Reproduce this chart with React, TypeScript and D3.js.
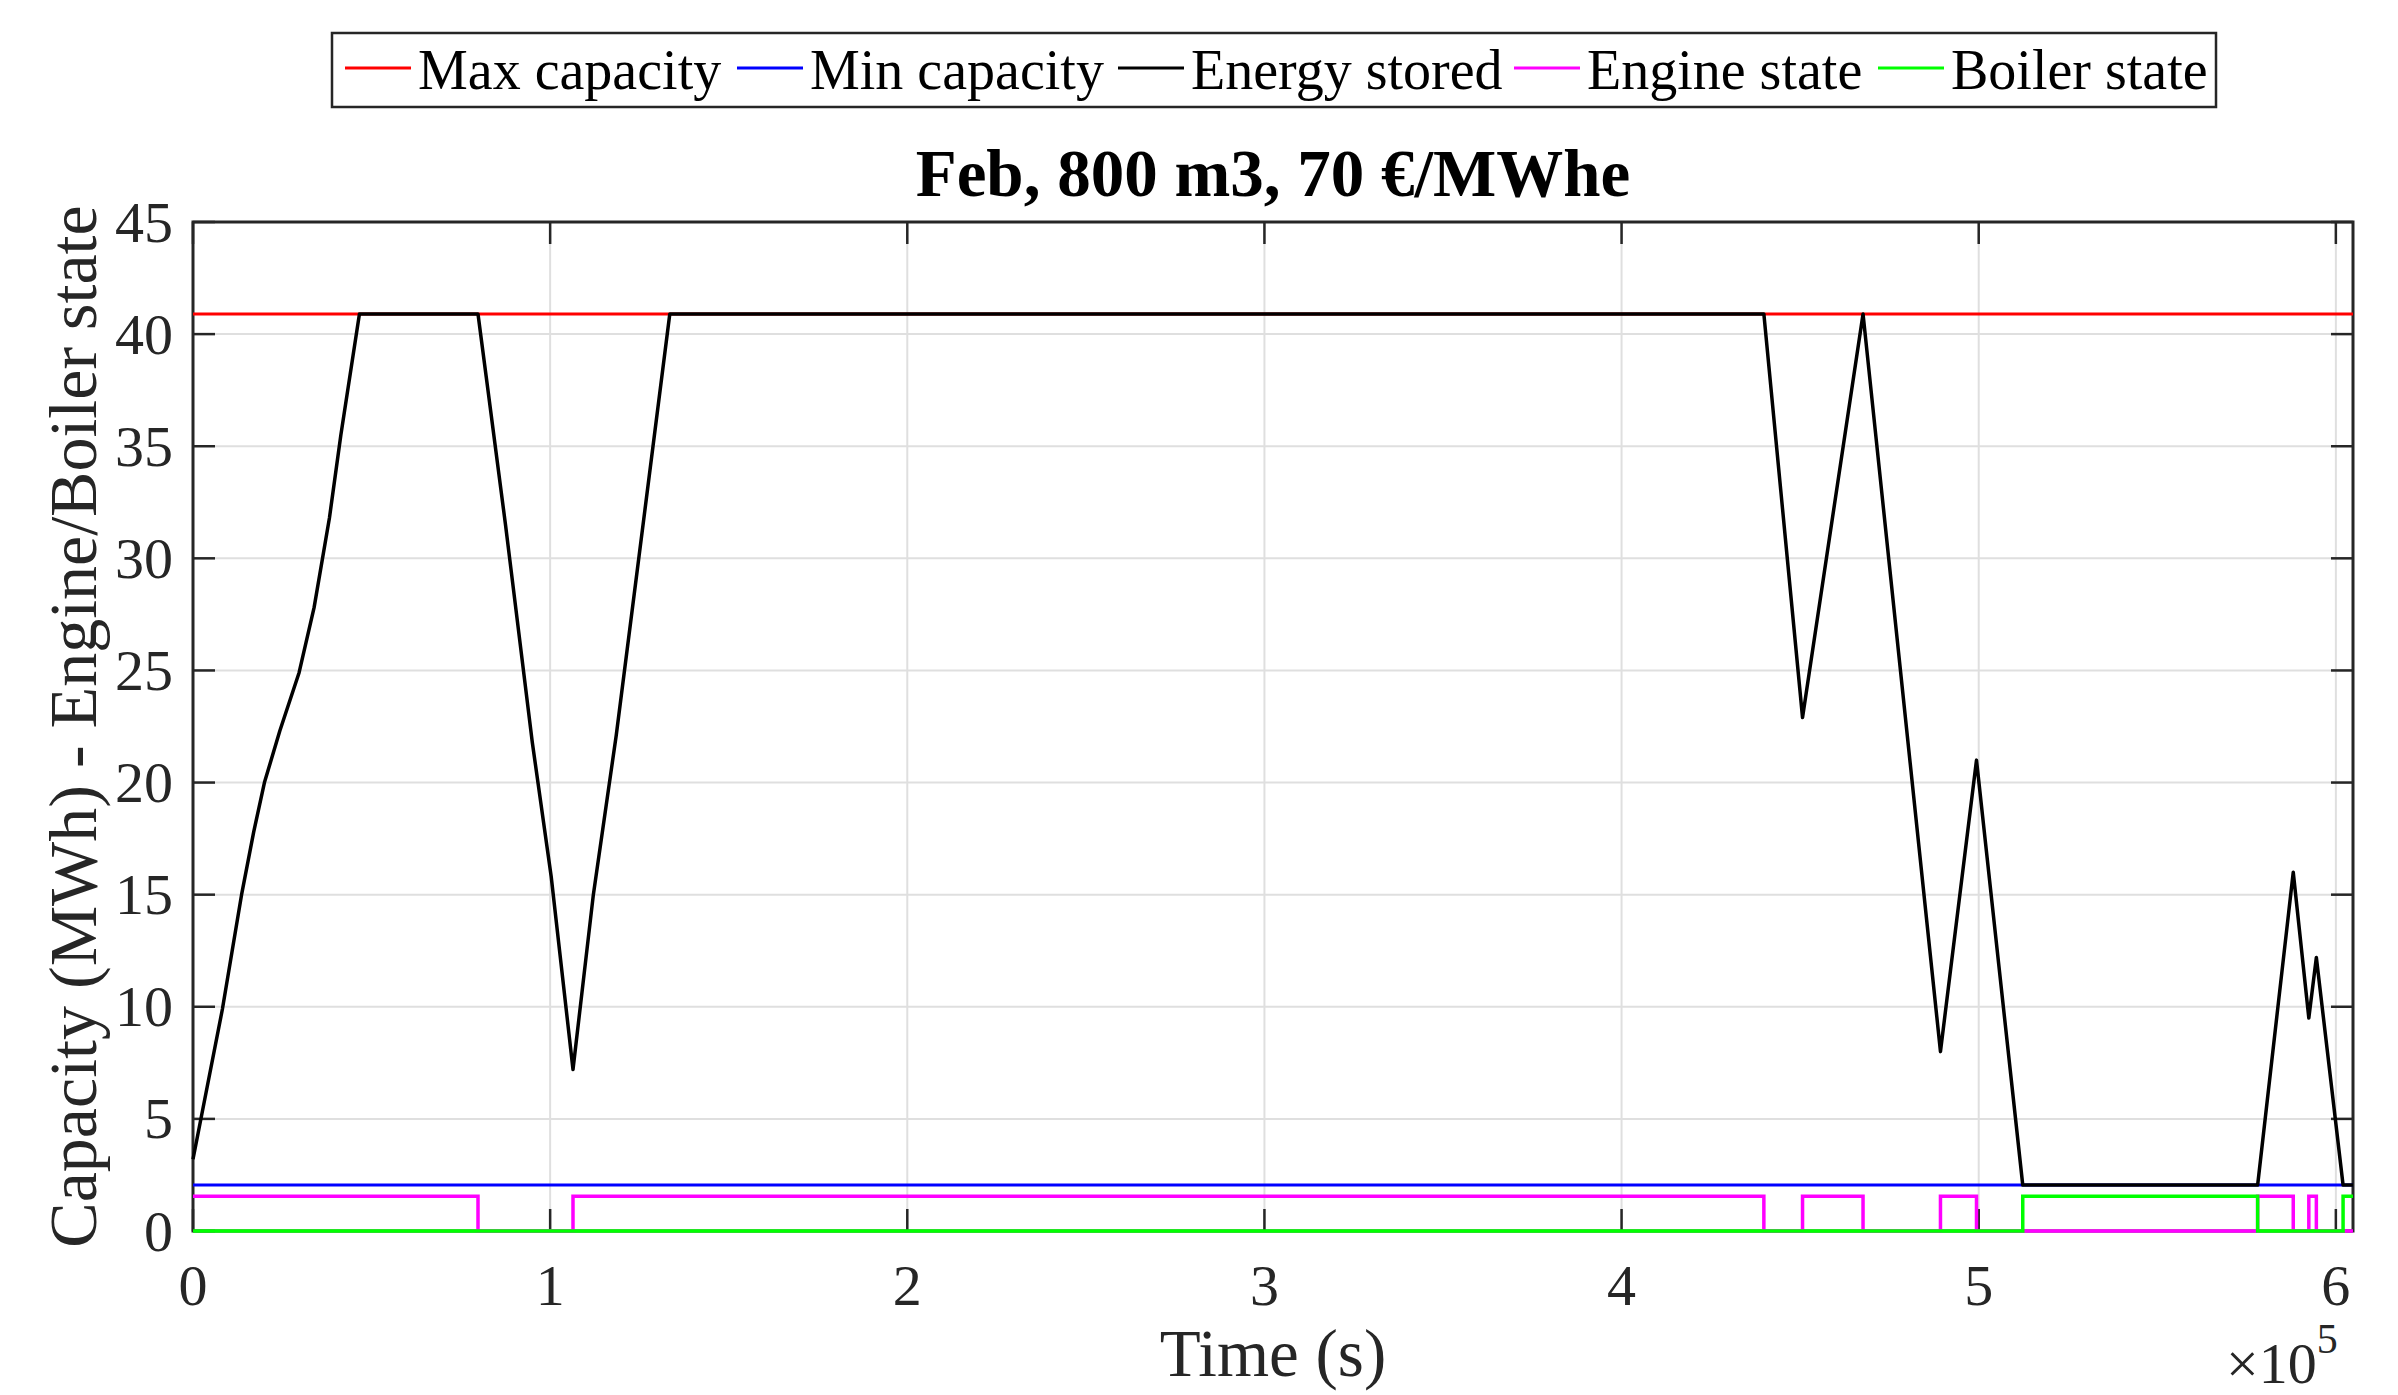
import React from "react";
import * as d3 from "d3";

// time in seconds, energy in MWh
const energyTime = [0, 8240, 13600, 17000, 20000, 24300, 29700, 33900, 38200, 41400, 46600, 79800, 82100, 87500, 95000, 100300, 106400, 112100, 118500, 124900, 133500, 439840, 450670, 467610, 489290, 499380, 512330, 578100, 588070, 592430, 594540, 602020, 604800];
const energyValue = [3.2, 9.9, 15.0, 17.8, 20.0, 22.3, 24.9, 27.8, 31.8, 35.5, 40.9, 40.9, 38.1, 31.5, 21.8, 15.8, 7.2, 15.0, 22.1, 30.1, 40.9, 40.9, 22.9, 40.9, 8.0, 21.0, 2.05, 2.05, 16.0, 9.5, 12.2, 2.05, 2.05];

const engineTime = [0, 79800, 106400, 439840, 450670, 467610, 489290, 499380, 578100, 588070, 592430, 594540, 604800];
const engineState = [1.55, 0, 1.55, 0, 1.55, 0, 1.55, 0, 1.55, 0, 1.55, 0, 0];

const boilerTime = [0, 512330, 578100, 602020, 604800];
const boilerState = [0, 1.55, 0, 1.55, 1.55];

const maxCapacity = 40.9;
const minCapacity = 2.05;
const timeEnd = 604800;

const xTicks = [0, 1, 2, 3, 4, 5, 6]; // x 10^5 s
const yTicks = [0, 5, 10, 15, 20, 25, 30, 35, 40, 45];

const legendNames = ["Max capacity", "Min capacity", "Energy stored", "Engine state", "Boiler state"];
const legendColors = ["#ff0000", "#0000ff", "#000000", "#ff00ff", "#00ff00"];

const W = 2398;
const H = 1395;
const left = 193, right = 2353, top = 222, bottom = 1231;
const axisColor = "#262626";
const font = "'Liberation Serif', 'Times New Roman', serif";

export default function App() {
  const x = d3.scaleLinear().domain([0, timeEnd]).range([left, right]);
  const y = d3.scaleLinear().domain([0, 45]).range([bottom, top]);

  const line = d3.line<[number, number]>().x((d) => x(d[0])).y((d) => y(d[1]));
  const step = d3.line<[number, number]>().x((d) => x(d[0])).y((d) => y(d[1])).curve(d3.curveStepAfter);

  const zip = (t: number[], v: number[]) => t.map((d, i) => [d, v[i]] as [number, number]);

  const maxPath = line([[0, maxCapacity], [timeEnd, maxCapacity]]);
  const minPath = line([[0, minCapacity], [timeEnd, minCapacity]]);
  const energyPath = line(zip(energyTime, energyValue));
  const enginePath = step(zip(engineTime, engineState));
  const boilerPath = step(zip(boilerTime, boilerState));

  const legendStarts = [345, 737, 1118, 1514, 1878];
  const tickLen = 22;

  return (
    <svg width={W} height={H} style={{ position: "absolute", left: 0, top: 0, background: "#fff" }} fontFamily={font}>
      <rect x={0} y={0} width={W} height={H} fill="#fff" />
      {/* grid */}
      {xTicks.map((t) => (
        <line key={"gx" + t} x1={x(t * 1e5)} x2={x(t * 1e5)} y1={top} y2={bottom} stroke="#dfdfdf" strokeWidth={2} />
      ))}
      {yTicks.map((t) => (
        <line key={"gy" + t} x1={left} x2={right} y1={y(t)} y2={y(t)} stroke="#dfdfdf" strokeWidth={2} />
      ))}

      {/* box */}
      <rect x={left} y={top} width={right - left} height={bottom - top} fill="none" stroke={axisColor} strokeWidth={3} />

      {/* ticks on all four sides */}
      {xTicks.map((t) => (
        <g key={"tx" + t}>
          <line x1={x(t * 1e5)} x2={x(t * 1e5)} y1={bottom} y2={bottom - tickLen} stroke={axisColor} strokeWidth={2.5} />
          <line x1={x(t * 1e5)} x2={x(t * 1e5)} y1={top} y2={top + tickLen} stroke={axisColor} strokeWidth={2.5} />
          <text x={x(t * 1e5)} y={1305} fontSize={58} textAnchor="middle" fill={axisColor}>{t}</text>
        </g>
      ))}
      {yTicks.map((t) => (
        <g key={"ty" + t}>
          <line x1={left} x2={left + tickLen} y1={y(t)} y2={y(t)} stroke={axisColor} strokeWidth={2.5} />
          <line x1={right} x2={right - tickLen} y1={y(t)} y2={y(t)} stroke={axisColor} strokeWidth={2.5} />
          <text x={173} y={y(t)} fontSize={58} textAnchor="end" dominantBaseline="central" fill={axisColor}>{t}</text>
        </g>
      ))}

      {/* data */}
      <path d={maxPath ?? ""} fill="none" stroke={legendColors[0]} strokeWidth={3} />
      <path d={minPath ?? ""} fill="none" stroke={legendColors[1]} strokeWidth={3} />
      <path d={energyPath ?? ""} fill="none" stroke={legendColors[2]} strokeWidth={3.5} strokeLinejoin="round" />
      <path d={enginePath ?? ""} fill="none" stroke={legendColors[3]} strokeWidth={3.5} />
      <path d={boilerPath ?? ""} fill="none" stroke={legendColors[4]} strokeWidth={3.5} />

      {/* exponent */}
      <text x={2226} y={1383} fontSize={58} fill={axisColor}>
        ×10
        <tspan dy={-30} fontSize={42}>5</tspan>
      </text>

      {/* labels */}
      <text x={(left + right) / 2} y={1376} fontSize={67} textAnchor="middle" fill={axisColor}>Time (s)</text>
      <text transform={`translate(96, ${(top + bottom) / 2}) rotate(-90)`} fontSize={68} textAnchor="middle" fill={axisColor}>
        Capacity (MWh) - Engine/Boiler state
      </text>
      <text x={(left + right) / 2} y={196} fontSize={67} fontWeight="bold" textAnchor="middle" fill="#000">
        Feb, 800 m3, 70 €/MWhe
      </text>

      {/* legend */}
      <rect x={332} y={33} width={1884} height={74} fill="#fff" stroke={axisColor} strokeWidth={2.5} />
      {legendNames.map((name, i) => (
        <g key={name}>
          <line x1={legendStarts[i]} x2={legendStarts[i] + 66} y1={68} y2={68} stroke={legendColors[i]} strokeWidth={3} />
          <text x={legendStarts[i] + 73} y={70} fontSize={56} dominantBaseline="central" fill="#000">{name}</text>
        </g>
      ))}
    </svg>
  );
}
